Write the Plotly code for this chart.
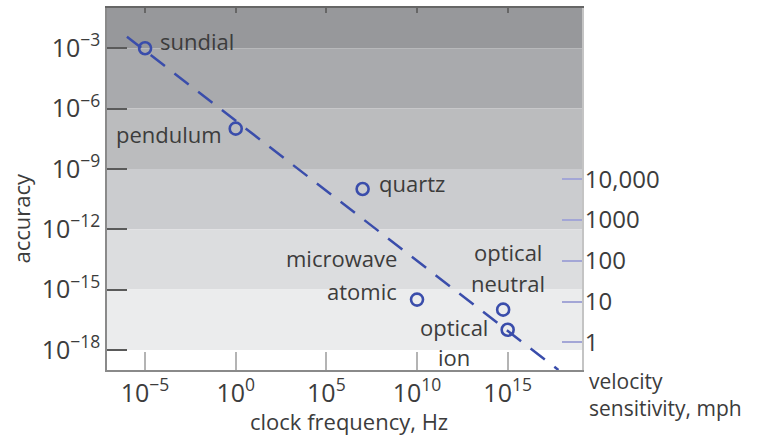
import math
import plotly.graph_objects as go

# Clock types: frequency (Hz) and fractional accuracy
clock_names = ["sundial", "pendulum", "quartz", "microwave atomic", "optical neutral", "optical ion"]
clock_freq = [1e-5, 1e0, 1e7, 1e10, 10**14.75, 1e15]
clock_acc = [1e-3, 1e-7, 1e-10, 10**-15.5, 1e-16, 1e-17]

# Trend line endpoints
trend_freq = [1e-6, 10**17.8]
trend_acc = [10**-2.43, 1e-19]

# Shaded accuracy bands (upper, lower bound) and their greys
band_edges = [(1e-1, 1e-3), (1e-3, 1e-6), (1e-6, 1e-9), (1e-9, 1e-12), (1e-12, 1e-15), (1e-15, 1e-18)]
band_colors = ["#97989b", "#a9aaad", "#bbbcbe", "#cbcccf", "#dcdddf", "#ebeced"]

# Axis ticks
x_tickvals = [1e-5, 1e0, 1e5, 1e10, 1e15]
x_ticktext = ["10<sup>\u22125</sup>", "10<sup>0</sup>", "10<sup>5</sup>", "10<sup>10</sup>", "10<sup>15</sup>"]
y_tickvals = [1e-3, 1e-6, 1e-9, 1e-12, 1e-15, 1e-18]
y_ticktext = ["10<sup>\u22123</sup>", "10<sup>\u22126</sup>", "10<sup>\u22129</sup>",
              "10<sup>\u221212</sup>", "10<sup>\u221215</sup>", "10<sup>\u221218</sup>"]
v_tickvals = [1, 10, 100, 1000, 10000]
v_ticktext = ["1", "10", "100", "1000", "10,000"]

BLUE = "#3a4dab"
TEXT = "#3c3c3c"
FONT = "Open Sans"
LABEL_SIZE = 22

fig = go.Figure()

for (top, bottom), col in zip(band_edges, band_colors):
    fig.add_shape(type="rect", xref="paper", yref="y", x0=0, x1=1, y0=bottom, y1=top,
                  fillcolor=col, line_width=0, layer="below")

fig.add_trace(go.Scatter(x=trend_freq, y=trend_acc, mode="lines",
                         line=dict(color=BLUE, width=2.5, dash="18px,12px"),
                         showlegend=False, hoverinfo="skip"))
fig.add_trace(go.Scatter(x=clock_freq, y=clock_acc, mode="markers", text=clock_names,
                         marker=dict(symbol="circle-open", size=12, color=BLUE,
                                     line=dict(width=2.6, color=BLUE)),
                         showlegend=False))
# helper traces so the top and right axes are drawn
fig.add_trace(go.Scatter(x=[1e-5], y=[1e-3], xaxis="x2", mode="markers",
                         marker=dict(opacity=0), showlegend=False, hoverinfo="skip"))
fig.add_trace(go.Scatter(x=[1e-5], y=[1], yaxis="y2", mode="markers",
                         marker=dict(opacity=0), showlegend=False, hoverinfo="skip"))

# point labels: (text, clock index, xanchor, xshift, yshift)
labels = [
    ("sundial", 0, "left", 13, 7),
    ("pendulum", 1, "right", -12, -5),
    ("quartz", 2, "left", 14, 6),
    ("microwave", 3, "right", -18, 42),
    ("atomic", 3, "right", -18, 9),
    ("optical", 4, "center", 5, 58),
    ("neutral", 4, "center", 5, 27),
    ("optical", 5, "right", -18, 3),
    ("ion", 5, "center", -54, -27),
]
for txt, i, xa, xs, ys in labels:
    fig.add_annotation(x=math.log10(clock_freq[i]), y=math.log10(clock_acc[i]), xref="x", yref="y",
                       text=txt, showarrow=False, xanchor=xa, yanchor="middle",
                       xshift=xs, yshift=ys, font=dict(family=FONT, size=LABEL_SIZE, color=TEXT))

# axis titles
fig.add_annotation(xref="paper", yref="paper", x=0.509, y=-0.186, text="clock frequency, Hz",
                   showarrow=False, xanchor="center", yanchor="bottom", borderpad=0,
                   font=dict(family=FONT, size=LABEL_SIZE, color=TEXT))
fig.add_annotation(xref="paper", yref="paper", x=-0.182, y=0.42, text="accuracy", textangle=-90,
                   showarrow=False, xanchor="center", yanchor="middle",
                   font=dict(family=FONT, size=LABEL_SIZE, color=TEXT))
fig.add_annotation(xref="paper", yref="paper", x=1.0105, y=-0.03, text="velocity",
                   showarrow=False, xanchor="left", yanchor="middle",
                   font=dict(family=FONT, size=21, color=TEXT))
fig.add_annotation(xref="paper", yref="paper", x=1.0105, y=-0.105, text="sensitivity, mph",
                   showarrow=False, xanchor="left", yanchor="middle",
                   font=dict(family=FONT, size=21, color=TEXT))

tickfont = dict(family=FONT, size=25, color=TEXT)
fig.update_layout(
    width=759, height=438,
    margin=dict(l=107, r=177, t=8, b=68),
    paper_bgcolor="white", plot_bgcolor="white",
    xaxis=dict(type="log", range=[-7.1, 19.1], tickvals=x_tickvals, ticktext=x_ticktext,
               ticks="inside", ticklen=18, tickwidth=1.5, tickcolor="#b4b4b4",
               showline=True, linecolor="#8a8a8a", linewidth=1.5, showgrid=False,
               zeroline=False, tickfont=tickfont),
    xaxis2=dict(type="log", range=[-7.1, 19.1], overlaying="x", side="top", tickvals=x_tickvals,
                ticks="inside", ticklen=5, tickwidth=1.5, tickcolor="#666666",
                showticklabels=False, showline=True, linecolor="#666666", linewidth=2,
                showgrid=False, zeroline=False),
    yaxis=dict(type="log", range=[-19, -1], tickvals=y_tickvals, ticktext=y_ticktext,
               ticks="inside", ticklen=20, tickwidth=1.5, tickcolor="#5a5a5a",
               showline=True, linecolor="#8a8a8a", linewidth=1.5, showgrid=False,
               zeroline=False, tickfont=tickfont),
    yaxis2=dict(type="log", range=[-0.68, 8.2], overlaying="y", side="right",
                tickvals=v_tickvals, ticktext=v_ticktext,
                ticks="inside", ticklen=20, tickwidth=1.5, tickcolor="#a3a6d6",
                showline=True, linecolor="#c4c4c4", linewidth=2, showgrid=False,
                zeroline=False, tickfont=dict(family=FONT, size=24, color=TEXT),
                ticklabelstandoff=-4),
)

fig.write_html("out.html")
